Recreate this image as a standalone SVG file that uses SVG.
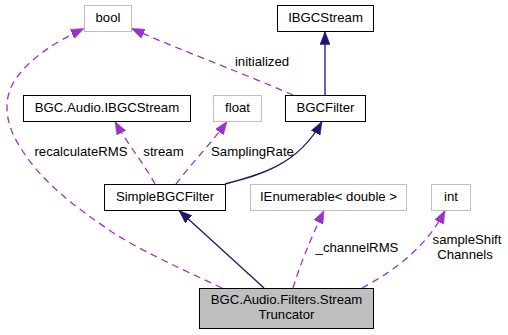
<svg xmlns="http://www.w3.org/2000/svg" width="508" height="335" viewBox="0 0 508 335">
  <style>
    .box { fill: #ffffff; stroke: #000000; stroke-width: 1; }
    .ext { fill: #ffffff; stroke: #bfbfbf; stroke-width: 1; }
    .cur { fill: #bfbfbf; stroke: #000000; stroke-width: 1; }
    text { font-family: "Liberation Sans", Arial, Helvetica, sans-serif; font-size: 13.2px; fill: #000000; text-anchor: middle; }
    .inh { fill: none; stroke: #191970; stroke-width: 1.3; }
    .use { fill: none; stroke: #9a32cd; stroke-width: 1.3; stroke-dasharray: 7,5; }
  </style>
  <defs>
    <marker id="navyHead" viewBox="0 0 13 10" refX="13" refY="5" markerWidth="13" markerHeight="10" markerUnits="userSpaceOnUse" orient="auto">
      <path d="M0,0 L13,5 L0,10 z" fill="#191970" stroke="#191970" stroke-width="0.5"/>
    </marker>
    <marker id="purpleHead" viewBox="0 0 13 10" refX="13" refY="5" markerWidth="13" markerHeight="10" markerUnits="userSpaceOnUse" orient="auto">
      <path d="M0,0 L13,5 L0,10 z" fill="#9a32cd" stroke="#9a32cd" stroke-width="0.5"/>
    </marker>
  </defs>

  <!-- connectors -->
  <g id="edges">
    <path class="inh" d="M325,95 L325,31.5" marker-end="url(#navyHead)"/>
    <path class="inh" d="M225,184 C260,175 298,165 322,121.5" marker-end="url(#navyHead)"/>
    <path class="inh" d="M264,288 L179,210.5" marker-end="url(#navyHead)"/>

    <path class="use" d="M222,288 C175,266 140,250 112,232 C75,207 42,182 22,150 C5,125 2,100 15,80 C30,58 55,42 84,28.5" marker-end="url(#purpleHead)"/>
    <path class="use" d="M293,95 C240,72 180,50 131.5,28.5" marker-end="url(#purpleHead)"/>
    <path class="use" d="M155,184 C145,165 128,145 115,121.5" marker-end="url(#purpleHead)"/>
    <path class="use" d="M176,184 C190,165 210,145 227,121.5" marker-end="url(#purpleHead)"/>
    <path class="use" d="M293,288 C300,265 310,240 324,210.5" marker-end="url(#purpleHead)"/>
    <path class="use" d="M362,288 C390,273 425,250 445,210.5" marker-end="url(#purpleHead)"/>

    <text x="81" y="156">recalculateRMS</text>
    <text x="262" y="66">initialized</text>
    <text x="163.5" y="156">stream</text>
    <text x="252.5" y="156">SamplingRate</text>
    <text x="357" y="252">_channelRMS</text>
    <text x="467" y="244">sampleShift</text>
    <text x="465" y="259">Channels</text>
  </g>

  <g id="node-bool">
    <rect class="ext" x="84.5" y="5.5" width="47" height="26"/>
    <text x="108" y="22">bool</text>
  </g>
  <g id="node-IBGCStream">
    <rect class="box" x="277.5" y="5.5" width="96" height="26"/>
    <text x="325.5" y="22">IBGCStream</text>
  </g>
  <g id="node-BGC-Audio-IBGCStream">
    <rect class="box" x="23.5" y="95.5" width="167" height="26"/>
    <text x="107" y="112">BGC.Audio.IBGCStream</text>
  </g>
  <g id="node-float">
    <rect class="ext" x="213.5" y="95.5" width="48" height="26"/>
    <text x="237.5" y="112">float</text>
  </g>
  <g id="node-BGCFilter">
    <rect class="box" x="285.5" y="95.5" width="80" height="26"/>
    <text x="325.5" y="112">BGCFilter</text>
  </g>
  <g id="node-SimpleBGCFilter">
    <rect class="box" x="104.5" y="184.5" width="121" height="26"/>
    <text x="165" y="201">SimpleBGCFilter</text>
  </g>
  <g id="node-IEnumerable">
    <rect class="ext" x="250.5" y="184.5" width="156" height="26"/>
    <text x="328.5" y="201">IEnumerable&lt; double &gt;</text>
  </g>
  <g id="node-int">
    <rect class="ext" x="431.5" y="184.5" width="39" height="26"/>
    <text x="451" y="201">int</text>
  </g>
  <g id="node-StreamTruncator">
    <rect class="cur" x="199.5" y="288.5" width="174" height="40"/>
    <text x="286.5" y="303.5">BGC.Audio.Filters.Stream</text>
    <text x="286.5" y="318.5">Truncator</text>
  </g>
</svg>
